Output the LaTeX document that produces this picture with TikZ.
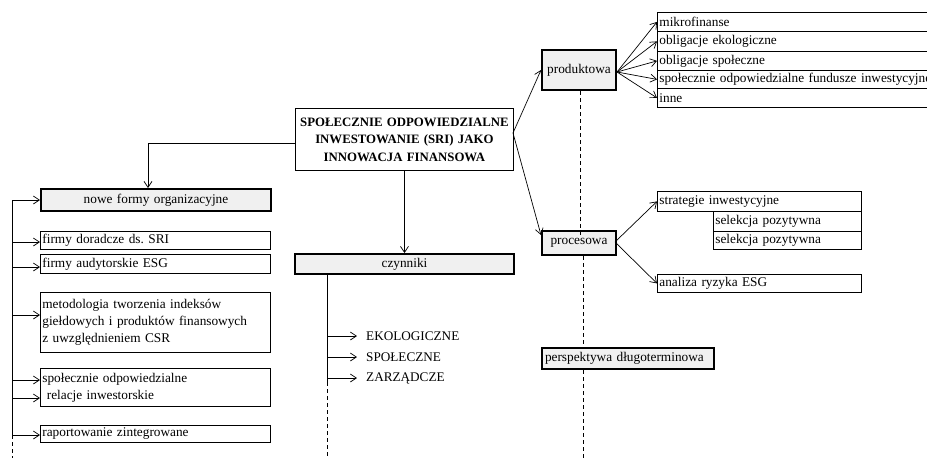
\documentclass[tikz,border=0pt]{standalone}
\usepackage{fontspec}
\setmainfont{Liberation Serif}
\usetikzlibrary{arrows.meta}
\definecolor{boxgray}{HTML}{F0F0F0}
\tikzset{
  thinbox/.style={draw, line width=0.8pt, inner xsep=2pt, inner ysep=0pt, anchor=north west, align=left, font=\fontsize{13.3}{17}\selectfont},
  headbox/.style={draw, line width=2pt, fill=boxgray, inner xsep=3pt, inner ysep=0pt, anchor=north west, font=\fontsize{13.3}{17}\selectfont},
  arr/.style={-{Straight Barb[length=6pt,width=8pt]}, line width=0.7pt},
  ln/.style={line width=0.7pt},
  dsh/.style={dash pattern=on 4pt off 3pt, line width=0.7pt},
  caplbl/.style={anchor=west, inner xsep=9pt, inner ysep=0pt, font=\fontsize{13.2}{15}\selectfont}
}
\begin{document}
\begin{tikzpicture}[x=1pt,y=-1pt]
\useasboundingbox (0,0) rectangle (927,458);
\clip (0,0) rectangle (927,458);

% central box
\node[thinbox, align=center, text width=214, minimum height=62, font=\bfseries\fontsize{12.8}{17.5}\selectfont] (sri) at (295,108)
  {SPOŁECZNIE ODPOWIEDZIALNE\\INWESTOWANIE (SRI) JAKO\\INNOWACJA FINANSOWA};

% left column
\node[headbox, align=center, text width=224, minimum height=22] (nowe) at (40,188) {nowe formy organizacyjne};
\node[thinbox, text width=226, minimum height=18] (dor) at (40,231) {firmy doradcze ds.\ SRI};
\node[thinbox, text width=226, minimum height=19] (aud) at (40,254) {firmy audytorskie ESG};
\node[thinbox, text width=226, minimum height=60] (met) at (40,292) {metodologia tworzenia indeksów\\giełdowych i produktów finansowych\\z uwzględnieniem CSR};
\node[thinbox, text width=226, minimum height=38] (rel) at (40,368) {społecznie odpowiedzialne\\\ relacje inwestorskie};
\node[thinbox, text width=226, minimum height=17] (rap) at (40,425) {raportowanie zintegrowane};

% middle column
\node[headbox, align=center, text width=213, minimum height=20] (czyn) at (294,253) {czynniki};
\node[caplbl] (eko) at (357,336) {EKOLOGICZNE};
\node[caplbl] (spo) at (357,357) {SPOŁECZNE};
\node[caplbl] (zar) at (357,378) {ZARZĄDCZE};

% right column
\node[headbox, align=center, text width=68, minimum height=40] (prod) at (541,49) {produktowa};
\node[headbox, align=center, text width=68, minimum height=24] (proc) at (541,230) {procesowa};
\node[headbox, align=left, text width=166, minimum height=21] (persp) at (541,347) {perspektywa długoterminowa};

\node[thinbox, text width=346, minimum height=19] (mik) at (657,12) {mikrofinanse};
\node[thinbox, text width=346, minimum height=20] (ekol) at (657,31) {obligacje ekologiczne};
\node[thinbox, text width=346, minimum height=19] (spol) at (657,51) {obligacje społeczne};
\node[thinbox, text width=346, minimum height=18] (fund) at (657,70) {społecznie odpowiedzialne fundusze inwestycyjne};
\node[thinbox, text width=346, minimum height=19] (inne) at (657,88) {inne};

\node[thinbox, text width=200, minimum height=20] (strat) at (657,191) {strategie inwestycyjne};
\node[thinbox, text width=144, minimum height=20] (sel1) at (713,211) {selekcja pozytywna};
\node[thinbox, text width=144, minimum height=18] (sel2) at (713,231) {selekcja pozytywna};
\node[thinbox, text width=200, minimum height=18] (anal) at (657,274) {analiza ryzyka ESG};

% connectors: centre box
\coordinate (L) at (148,143);
\draw[ln] (sri.west |- L) -- (L);
\draw[arr] (L) -- (L |- nowe.north);
\draw[arr] (sri.south) -- (czyn.north);
\coordinate (m) at (513,133);
\draw[arr] (m) -- (prod.west);
\draw[arr] (m) -- ([yshift=8pt]proc.west);

% left trunk
\coordinate (t0) at (12,200);
\coordinate (t1) at (12,435);
\coordinate (t2) at (12,458);
\draw[ln] (t0) -- (t1);
\draw[dsh] (t1) -- (t2);
\coordinate (b2) at (12,242);
\coordinate (b3) at (12,267);
\coordinate (b4) at (12,315);
\coordinate (b5) at (12,380);
\coordinate (b6) at (12,398);
\draw[arr] (t0) -- (t0 -| nowe.west);
\draw[arr] (b2) -- (b2 -| dor.west);
\draw[arr] (b3) -- (b3 -| aud.west);
\draw[arr] (b4) -- (b4 -| met.west);
\draw[arr] (b5) -- (b5 -| rel.west);
\draw[arr] (b6) -- (b6 -| rel.west);
\draw[arr] (t1) -- (t1 -| rap.west);

% czynniki trunk
\coordinate (cx) at (327,0);
\coordinate (c1) at (327,382);
\coordinate (c2) at (327,458);
\draw[ln] (czyn.south -| cx) -- (c1);
\draw[dsh] (c1) -- (c2);
\draw[arr] (eko.west -| cx) -- (eko.west);
\draw[arr] (spo.west -| cx) -- (spo.west);
\draw[arr] (zar.west -| cx) -- (zar.west);

% product / process branches
\coordinate (po) at (617,72);
\draw[arr] (po) -- (mik.west);
\draw[arr] (po) -- (ekol.west);
\draw[arr] (po) -- (spol.west);
\draw[arr] (po) -- (fund.west);
\draw[arr] (po) -- (inne.west);
\coordinate (pr) at (615,242);
\draw[arr] (pr) -- (strat.west);
\draw[arr] (pr) -- (anal.west);

% dashed spine
\coordinate (d1) at (580,236);
\coordinate (d2) at (583,0);
\coordinate (d3) at (583,458);
\draw[dsh] (prod.south -| d1) -- (d1);
\draw[dsh] (proc.south -| d2) -- (persp.north -| d2);
\draw[dsh] (persp.south -| d2) -- (d3);
\end{tikzpicture}
\end{document}
